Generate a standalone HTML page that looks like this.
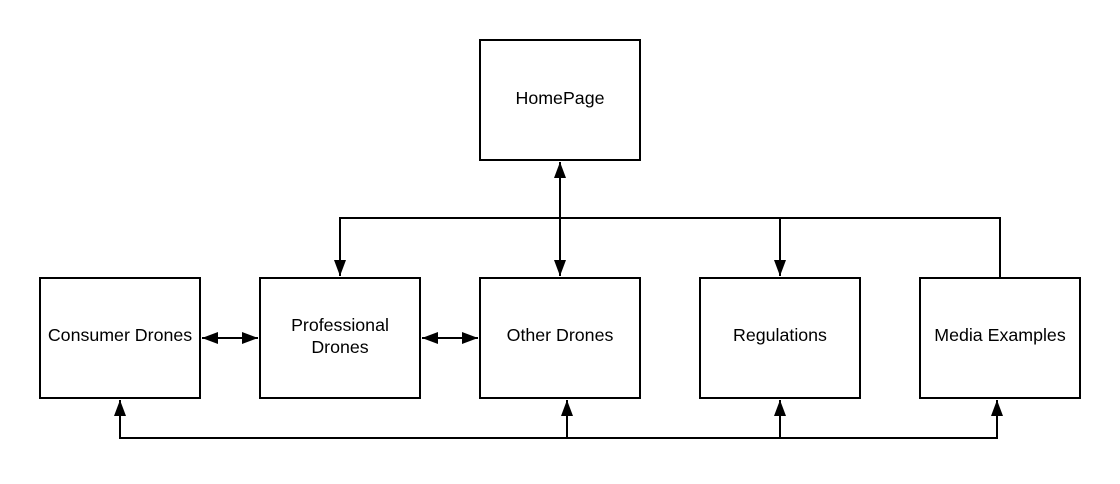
<!DOCTYPE html>
<html><head><style>html,body{margin:0;padding:0;background:#fff;}</style></head>
<body>
<svg width="1120" height="479" xmlns="http://www.w3.org/2000/svg" font-family="Liberation Sans, Arial, sans-serif" font-size="17.8">
<rect width="1120" height="479" fill="#fff"/>
<defs>
<marker id="a" markerWidth="16" markerHeight="12" refX="16" refY="6" orient="auto" markerUnits="userSpaceOnUse"><path d="M0,0 L16,6 L0,12 Z" fill="#000"/></marker>
<marker id="s" markerWidth="16" markerHeight="12" refX="0" refY="6" orient="auto" markerUnits="userSpaceOnUse"><path d="M16,0 L0,6 L16,12 Z" fill="#000"/></marker>
</defs>
<g fill="none" stroke="#000" stroke-width="2">
<rect x="480" y="40" width="160" height="120"/>
<rect x="40" y="278" width="160" height="120"/>
<rect x="260" y="278" width="160" height="120"/>
<rect x="480" y="278" width="160" height="120"/>
<rect x="700" y="278" width="160" height="120"/>
<rect x="920" y="278" width="160" height="120"/>
<polyline points="340,276 340,218 1000,218 1000,278" marker-start="url(#s)"/>
<line x1="560" y1="162" x2="560" y2="276" marker-start="url(#s)" marker-end="url(#a)"/>
<line x1="780" y1="218" x2="780" y2="276" marker-end="url(#a)"/>
<line x1="202" y1="338" x2="258" y2="338" marker-start="url(#s)" marker-end="url(#a)"/>
<line x1="422" y1="338" x2="478" y2="338" marker-start="url(#s)" marker-end="url(#a)"/>
<polyline points="120,400 120,438 997,438 997,400" marker-start="url(#s)" marker-end="url(#a)"/>
<line x1="567" y1="438" x2="567" y2="400" marker-end="url(#a)"/>
<line x1="780" y1="438" x2="780" y2="400" marker-end="url(#a)"/>
</g>
<g fill="#000" text-anchor="middle">
<text x="560" y="104">HomePage</text>
<text x="120" y="341">Consumer Drones</text>
<text x="340" y="331">Professional</text>
<text x="340" y="353">Drones</text>
<text x="560" y="341">Other Drones</text>
<text x="780" y="341">Regulations</text>
<text x="1000" y="341">Media Examples</text>
</g>
</svg>
</body></html>
